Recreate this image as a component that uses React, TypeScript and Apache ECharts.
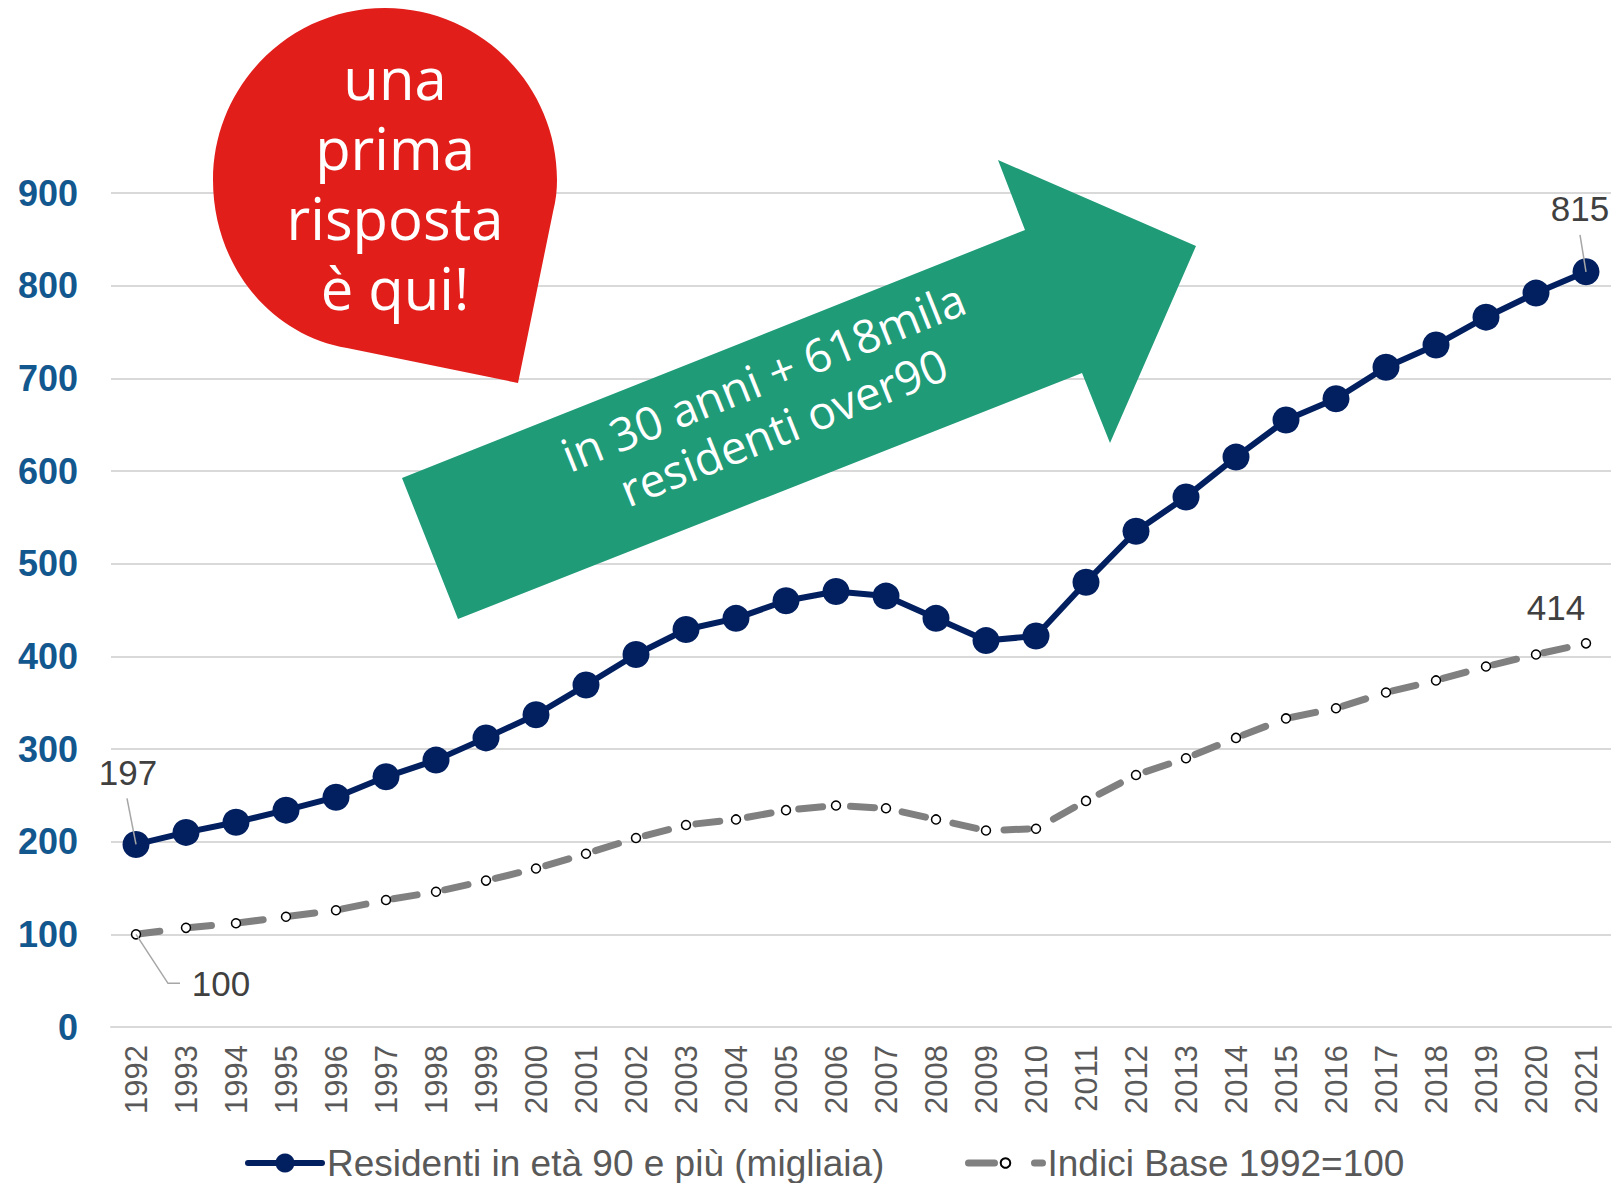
import React, { useEffect, useRef } from "react";
import * as echarts from "echarts";

const years = [
  "1992", "1993", "1994", "1995", "1996", "1997", "1998", "1999", "2000", "2001",
  "2002", "2003", "2004", "2005", "2006", "2007", "2008", "2009", "2010", "2011",
  "2012", "2013", "2014", "2015", "2016", "2017", "2018", "2019", "2020", "2021",
];
const residents = [
  197, 210, 221, 234, 248, 270, 288, 312, 337, 369,
  402, 429, 441, 460, 470, 465, 441, 417, 422, 480,
  535, 572, 615, 655, 678, 712, 736, 766, 792, 815,
];
const indexBase = [
  100, 107, 112, 119, 126, 137, 146, 158, 171, 187,
  204, 218, 224, 234, 239, 236, 224, 212, 214, 244,
  272, 290, 312, 333, 344, 361, 374, 389, 402, 414,
];
const yMin = 0;
const yMax = 900;
const yStep = 100;
const seriesNames = ["Residenti in età 90 e più (migliaia)", "Indici Base 1992=100"];
const bubbleLines = ["una", "prima", "risposta", "è qui!"];
const arrowLines = ["in 30 anni + 618mila", "residenti over90"];

const BUBBLE_D =
  "M385 8 C290 8 213 85 213 180 C213 265 270 335 347 348 L518 383 L553 212 C556 200 557 190 557 180 C557 85 480 8 385 8 Z";
echarts.graphic.registerShape("speechBubble", echarts.graphic.extendPath(BUBBLE_D, {}));

const FONT = "'Liberation Sans', Arial, Helvetica, sans-serif";
const ANNOT_FONT = "'Open Sans', 'Noto Sans', sans-serif";

export default function App() {
  const ref = useRef<HTMLDivElement>(null);
  useEffect(() => {
    const chart = echarts.init(ref.current!, null, { renderer: "svg" });
    const legendText = { fontSize: 37, color: "#595959", fontFamily: FONT, lineHeight: 40 };
    chart.setOption({
      animation: false,
      textStyle: { fontFamily: FONT },
      grid: { left: 111, right: 5, top: 193, bottom: 156, containLabel: false },
      xAxis: {
        type: "category",
        data: years,
        boundaryGap: true,
        axisLine: { show: true, lineStyle: { color: "#D9D9D9", width: 2 } },
        axisTick: { show: false },
        axisLabel: { rotate: 90, fontSize: 31, color: "#595959", margin: 18, interval: 0, fontFamily: FONT },
      },
      yAxis: {
        type: "value",
        min: yMin,
        max: yMax,
        interval: yStep,
        axisLine: { show: false },
        axisTick: { show: false },
        axisLabel: { fontSize: 36, fontWeight: "bold", color: "#13578F", margin: 33, fontFamily: FONT },
        splitLine: { lineStyle: { color: "#D9D9D9", width: 2 } },
      },
      legend: [
        {
          data: [seriesNames[0]],
          left: 240,
          top: 1138,
          itemWidth: 74,
          itemHeight: 24,
          lineStyle: { width: 6, cap: "round" },
          textStyle: legendText,
        },
        {
          data: [seriesNames[1]],
          left: 960,
          top: 1138,
          itemWidth: 74,
          itemHeight: 12,
          lineStyle: { width: 7, type: [26, 40], cap: "round" },
          textStyle: legendText,
        },
      ],
      series: [
        {
          name: seriesNames[0],
          type: "line",
          data: residents,
          symbol: "circle",
          symbolSize: 27,
          showAllSymbol: true,
          z: 3,
          lineStyle: { color: "#022060", width: 6 },
          itemStyle: { color: "#022060" },
        },
        {
          name: seriesNames[1],
          type: "line",
          data: indexBase,
          symbol: "circle",
          symbolSize: 9,
          showAllSymbol: true,
          z: 2,
          lineStyle: { color: "#808080", width: 7, type: [24, 28], cap: "round" },
          itemStyle: { color: "#ffffff", borderColor: "#000000", borderWidth: 1.5 },
        },
      ],
    });

    const pt = (s: number, i: number): number[] =>
      chart.convertToPixel({ seriesIndex: s }, [i, s === 0 ? residents[i] : indexBase[i]]) as number[];

    const last = years.length - 1;
    const labels = [
      { s: 0, i: 0, text: String(residents[0]), dx: -8, dy: -72, leader: [[-9, -46], [0, 0]] },
      { s: 0, i: last, text: String(residents[last]), dx: -6, dy: -63, leader: [[-6, -37], [0, 0]] },
      { s: 1, i: 0, text: String(indexBase[0]), dx: 85, dy: 49, leader: [[0, 0], [32, 49], [44, 49]] },
      { s: 1, i: last, text: String(indexBase[last]), dx: -30, dy: -36, leader: null as number[][] | null },
    ];

    const graphics: any[] = [];
    // green arrow
    graphics.push({
      type: "polygon",
      z: 50,
      shape: {
        points: [
          [402, 478], [1025, 230], [998, 160], [1196, 246], [1110, 443], [1082, 373], [458, 619],
        ],
      },
      style: { fill: "#1F9B78" },
    });
    graphics.push({
      type: "text",
      z: 51,
      x: 773,
      y: 401,
      rotation: (21.9 * Math.PI) / 180,
      style: {
        text: arrowLines.join("\n"),
        fill: "#ffffff",
        font: `46px ${ANNOT_FONT}`,
        lineHeight: 54,
        align: "center",
        verticalAlign: "middle",
      },
    });
    // red bubble
    graphics.push({ type: "speechBubble", z: 50, x: 0, y: 0, style: { fill: "#E21E1B" } });
    graphics.push({
      type: "text",
      z: 51,
      x: 395,
      y: 182,
      style: {
        text: bubbleLines.join("\n"),
        fill: "#ffffff",
        font: `58px ${ANNOT_FONT}`,
        lineHeight: 70,
        align: "center",
        verticalAlign: "middle",
      },
    });

    labels.forEach((l) => {
      const [x, y] = pt(l.s, l.i);
      graphics.push({
        type: "text",
        z: 60,
        x: x + l.dx,
        y: y + l.dy,
        style: {
          text: l.text,
          fill: "#404040",
          font: `35px ${FONT}`,
          align: "center",
          verticalAlign: "middle",
        },
      });
      if (l.leader) {
        graphics.push({
          type: "polyline",
          z: 60,
          shape: { points: l.leader.map(([a, b]) => [x + a, y + b]) },
          style: { stroke: "#A6A6A6", lineWidth: 1.5, fill: null },
        });
      }
    });

    chart.setOption({ graphic: graphics });

    return () => chart.dispose();
  }, []);
  return (
    <div
      ref={ref}
      style={{ position: "absolute", left: 0, top: 0, width: 1616, height: 1183, background: "#ffffff" }}
    />
  );
}
